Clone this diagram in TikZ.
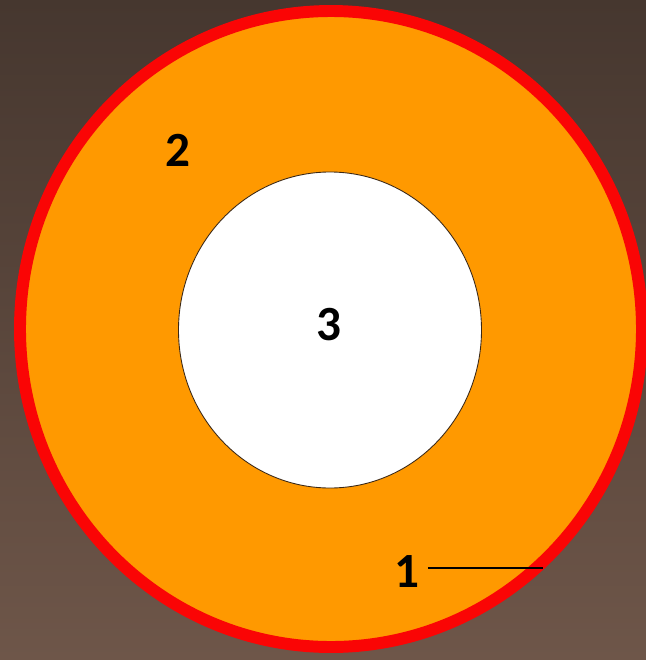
\documentclass[tikz,border=0pt]{standalone}
\usepackage{fontspec}
\setmainfont{Carlito}
\usepackage{tikz}
\usetikzlibrary{positioning, calc}
\definecolor{BgTop}{RGB}{70,55,47}
\definecolor{BgBot}{RGB}{110,86,73}
\definecolor{RingRed}{RGB}{250,5,5}
\definecolor{CoreOrange}{RGB}{255,153,0}
\definecolor{EdgeDark}{RGB}{60,40,20}

\begin{document}
\begin{tikzpicture}[x=0.02cm, y=-0.02cm,
            num/.style={font=\fontsize{28}{30}\selectfont\bfseries, text=black, inner sep=0pt},
            lead/.style={black, line width=1.6pt}
          ]
          \useasboundingbox (0,0) rectangle (646,660);
          \shade[top color=BgTop, bottom color=BgBot] (0,0) rectangle (646,660);

          % outer layer with red rim
          \draw[RingRed, fill=CoreOrange, line width=6.8pt]
            (331,329) ellipse [x radius=311, y radius=318];
          % inner layer
          \draw[EdgeDark, fill=white, line width=0.5pt]
            (330,330) ellipse [x radius=151.5, y radius=158];

          \node[num] (three) at (329,325) {3};
          \node[num] (two)   at (178,150) {2};
          \node[num] (one)   at (407,572) {1};
          \coordinate (rim) at (543,568);

          \draw[lead] (one.east |- rim) ++(8,0) coordinate (tail) -- (rim);
        \end{tikzpicture}
\end{document}
